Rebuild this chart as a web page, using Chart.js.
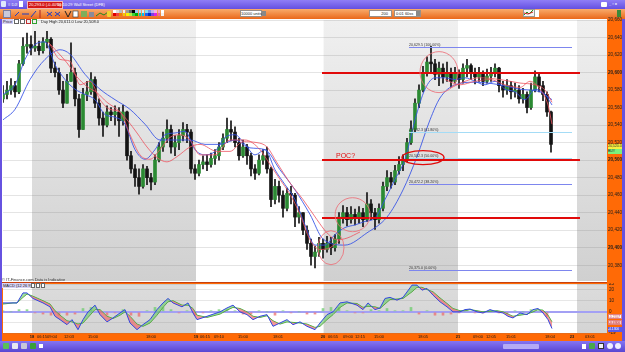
<!DOCTYPE html>
<html>
<head>
<meta charset="utf-8">
<title>Wall Street (DFB)</title>
<script src="https://cdn.jsdelivr.net/npm/chart.js@4.4.1/dist/chart.umd.min.js"></script>
<style>
html, body { margin: 0; padding: 0; }
body { width: 625px; height: 352px; overflow: hidden; position: relative; background: #6652e0; font-family: "Liberation Sans", Arial, sans-serif; }
.abs { position: absolute; }
.tiny { font-size: 4px; line-height: 5px; white-space: nowrap; }
#titlebar { left: 0; top: 0; width: 625px; height: 9px; background: linear-gradient(#8f7ef7, #6450e0); }
#toolbar { left: 0; top: 9px; width: 625px; height: 10px; background: linear-gradient(#f9ac6c, #ea681a); }
#statusbar { left: 0; top: 341px; width: 625px; height: 11px; background: linear-gradient(#8575f3, #5946d2); }
.orange { background: #ff6a06; }
.palette { display: flex; flex-wrap: wrap; width: 51px; gap: 0.4px; }
.palette span { width: 2.8px; height: 2.8px; display: block; }
.inbox { background: #fff; border: 1px solid #9a8f88; box-sizing: border-box; color: #222; }
</style>
</head>
<body>
<div id="titlebar" class="abs">
	<div class="abs" style="left:1px;top:1px;width:5px;height:6px;background:#dfe8fb;border-radius:1px"></div>
	<div class="abs tiny" style="left:8px;top:2px;color:#fff">≡ DJI</div>
	<div class="abs" style="left:19px;top:1px;width:4px;height:6px;background:#fff"></div>
	<div class="abs tiny" style="left:27px;top:1px;height:6px;padding:0 1px;background:#d51616;border:1px solid #f3b8b8;color:#fff;line-height:6px">20,293.0 (-0.40%)</div>
	<div class="abs tiny" style="left:57px;top:2px;color:#fff">16:10:29 Wall Street (DFB)</div>
	<div class="abs" style="left:601px;top:2px;width:6px;height:5px;background:#fff;border-radius:1px"></div>
	<div class="abs tiny" style="left:609px;top:1px;color:#fff;font-weight:bold">_ ▫ x</div>
</div>
<div id="toolbar" class="abs">
	<div class="abs" style="left:3px;top:1px;width:8px;height:8px;background:#c9c9da;border:1px solid #7b7b9c;box-sizing:border-box"></div>
	<svg class="abs" style="left:12px;top:1px" width="100" height="8">
		<g stroke="#1f3fc4" stroke-width="1" fill="none">
			<path d="M3 6 L7 2"/><path d="M10 4 H17"/><path d="M19 7 L24 1"/>
			<path d="M35 6 L40 2 M35 2 L40 6"/><path d="M43 6 L48 2 M43 2 L48 6"/>
		</g>
		<path d="M28 0 V8" stroke="#b02020" stroke-width="1"/>
		<path d="M53 1 L56 7 L59 1" stroke="#222" fill="none"/>
		<rect x="61" y="1" width="5" height="6" fill="#fff" stroke="#333" stroke-width="0.6"/>
		<rect x="69" y="1" width="6" height="6" fill="#7fae5a"/>
		<rect x="77" y="2" width="5" height="5" fill="#8a8a9a"/>
		<path d="M84 6 L88 3 L92 5 L96 2" stroke="#1e8a1e" fill="none"/>
	</svg>
	<div class="abs" style="left:107px;top:2px;width:4px;height:6px;background:#f0d030;border-radius:1px"></div>
	<div class="abs palette" style="left:113px;top:1px">
		<span style="background:#fff"></span><span style="background:#ddd"></span><span style="background:#bbb"></span><span style="background:#eee"></span><span style="background:#999"></span><span style="background:#666"></span><span style="background:#000"></span><span style="background:#9cc8f0"></span><span style="background:#b8d8f8"></span><span style="background:#c8f0f8"></span><span style="background:#80e0f0"></span><span style="background:#7090f0"></span><span style="background:#c0b0f0"></span><span style="background:#f8b0e0"></span><span style="background:#f0a0c8"></span><span style="background:#fff"></span>
		<span style="background:#e00000"></span><span style="background:#f04040"></span><span style="background:#f08000"></span><span style="background:#f0d000"></span><span style="background:#f8f000"></span><span style="background:#b0f040"></span><span style="background:#40d040"></span><span style="background:#00b000"></span><span style="background:#00d0a0"></span><span style="background:#00c0f0"></span><span style="background:#2060f0"></span><span style="background:#0030c0"></span><span style="background:#8040e0"></span><span style="background:#e020e0"></span><span style="background:#f060a0"></span><span style="background:#f0f0f0"></span>
	</div>
	<div class="abs inbox tiny" style="left:240px;top:1px;width:22px;height:7px;text-align:right;padding-right:1px">10000 units</div>
	<div class="abs" style="left:262px;top:2px;width:4px;height:5px;background:#888"></div>
	<div class="abs inbox tiny" style="left:369px;top:1px;width:23px;height:7px;text-align:right;padding-right:3px">200</div>
	<div class="abs inbox tiny" style="left:394px;top:1px;width:27px;height:7px;padding-left:1px">0:01 60ss</div>
	<div class="abs" style="left:416px;top:2px;width:4px;height:5px;background:#888"></div>
	<div class="abs" style="left:523px;top:0px;width:12px;height:8px;background:#f4f4f4;border:1px solid #999;box-sizing:border-box"></div>
	<svg class="abs" style="left:524px;top:1px" width="10" height="6"><path d="M0 5 L3 2 L5 4 L9 0" stroke="#1e9a1e" fill="none"/><path d="M0 3 L4 4 L9 2" stroke="#d02020" fill="none"/></svg>
	<div class="abs" style="left:535px;top:1px;width:4px;height:7px;background:#fff"></div>
	<div class="abs" style="left:617px;top:1px;width:4px;height:7px;background:#3a8a3a"></div>
</div>

<div class="abs" style="left:2px;top:19px;width:605px;height:264px;background:#fff"></div>
<div class="abs orange" style="left:607px;top:19px;width:15px;height:264px"></div>
<div class="abs orange" style="left:2px;top:283px;width:620px;height:58px"></div>

<canvas id="price-chart" class="abs" width="620" height="267" style="left:2px;top:16px"></canvas>
<canvas id="macd-chart" class="abs" width="620" height="58" style="left:2px;top:283px"></canvas>

<div class="abs" style="left:2px;top:282px;width:605px;height:1px;background:#c6400e"></div>

<div class="abs tiny" style="left:2px;top:19px;height:5px;padding:0 1px;background:#d6d2f4;color:#222">Price</div>
<div class="abs" style="left:14px;top:19px;width:5px;height:5px;background:#fff;border:1px solid #666;box-sizing:border-box"></div>
<div class="abs" style="left:20px;top:19px;width:5px;height:5px;background:#fff;border:1px solid #666;box-sizing:border-box"></div>
<div class="abs" style="left:26px;top:19px;width:5px;height:5px;background:#f0f0f0;border:1px solid #c03030;box-sizing:border-box"></div>
<div class="abs" style="left:32px;top:19px;width:5px;height:5px;background:#f0f0f0;border:1px solid #30a030;box-sizing:border-box"></div>
<div class="abs tiny" style="left:41px;top:19px;color:#222">Day High 20,611.0 Low 20,508.0</div>
<div class="abs tiny" style="left:2px;top:277px;color:#333">© IT-Finance.com Data is Indicative</div>

<div class="abs tiny" style="left:608px;top:144px;width:14px;height:5px;background:#f8f040;color:#222;font-size:3.5px">20,520.0</div>
<div class="abs tiny" style="left:608px;top:149px;width:14px;height:5px;background:#7cf07c;color:#222;font-size:3.5px">BUY</div>

<div class="abs tiny" style="left:2px;top:283px;height:5px;padding:0 1px;background:#d6d2f4;color:#222">MACD (12 26 9)</div>
<div class="abs" style="left:31px;top:283px;width:4px;height:5px;background:#fff;border:1px solid #666;box-sizing:border-box"></div>
<div class="abs" style="left:36px;top:283px;width:4px;height:5px;background:#fff;border:1px solid #666;box-sizing:border-box"></div>
<div class="abs" style="left:41px;top:283px;width:4px;height:5px;background:#fff;border:1px solid #666;box-sizing:border-box"></div>

<div class="abs tiny" style="left:608px;top:314px;width:14px;height:5px;background:#fff;border:1px solid #e08080;box-sizing:border-box;color:#d02020;font-size:3.3px;line-height:4px">-0.2557</div>
<div class="abs tiny" style="left:608px;top:320px;width:14px;height:5px;background:#f8c8c8;border:1px solid #e08080;box-sizing:border-box;color:#c02020;font-size:3.3px;line-height:4px">-0.4300</div>
<div class="abs tiny" style="left:608px;top:327px;width:14px;height:5px;background:#5a5ae8;color:#fff;font-size:3.3px;line-height:5px">-4.1300</div>

<div id="statusbar" class="abs">
	<div class="abs" style="left:3px;top:2px;width:6px;height:6px;background:#58c058;border-radius:1px"></div>
	<div class="abs" style="left:12px;top:2px;width:6px;height:6px;background:#e8e8f0;border-radius:1px"></div>
	<div class="abs" style="left:21px;top:2px;width:6px;height:6px;background:#c8c8d8;border-radius:1px"></div>
	<div class="abs" style="left:30px;top:2px;width:6px;height:6px;background:#3aa03a;border-radius:1px"></div>
	<div class="abs" style="left:39px;top:3px;width:4px;height:4px;background:#fff"></div>
	<div class="abs" style="left:503px;top:3px;width:36px;height:5px;background:#b4aaf6;border-radius:1px"></div>
	<div class="abs" style="left:582px;top:3px;width:4px;height:5px;background:#fff"></div>
	<div class="abs" style="left:589px;top:2px;width:6px;height:6px;background:#4aa84a;border-radius:1px"></div>
	<div class="abs" style="left:598px;top:2px;width:6px;height:6px;background:#f0f0f8;border:1px solid #333;box-sizing:border-box"></div>
	<div class="abs" style="left:607px;top:2px;width:6px;height:6px;background:#eef;border-radius:3px"></div>
	<div class="abs" style="left:615px;top:2px;width:6px;height:6px;background:#eef;border-radius:3px"></div>
</div>

<script>
// price bars, one per index step (open = previous close)
const firstOpen = 20570
const barClose = [20575,20580,20585,20578,20610,20630,20632,20628,20630,20625,20635,20638,20605,20600,20580,20565,20590,20600,20570,20535,20575,20578,20592,20565,20548,20540,20555,20552,20555,20545,20555,20505,20490,20480,20470,20490,20480,20475,20500,20515,20525,20535,20515,20520,20528,20535,20532,20490,20485,20495,20498,20495,20502,20505,20515,20525,20535,20532,20520,20505,20515,20505,20490,20485,20500,20505,20490,20455,20470,20460,20445,20462,20460,20435,20440,20420,20405,20390,20395,20405,20398,20405,20400,20410,20435,20440,20432,20438,20435,20440,20432,20450,20440,20432,20445,20470,20480,20475,20488,20495,20500,20520,20535,20565,20580,20600,20612,20610,20598,20605,20595,20600,20590,20598,20592,20605,20608,20600,20595,20598,20590,20596,20600,20605,20585,20580,20585,20578,20580,20570,20575,20560,20580,20595,20585,20575,20555,20518]
const barHigh = [20585,20590,20593,20590,20614,20640,20645,20642,20647,20636,20640,20647,20640,20612,20605,20590,20598,20634,20605,20575,20582,20590,20600,20595,20570,20555,20562,20560,20562,20560,20563,20556,20510,20495,20490,20495,20493,20485,20506,20520,20532,20546,20540,20528,20535,20543,20541,20535,20495,20500,20505,20506,20508,20512,20520,20530,20548,20545,20538,20525,20523,20518,20508,20495,20506,20512,20515,20492,20478,20476,20465,20468,20470,20462,20447,20440,20425,20410,20402,20412,20410,20413,20412,20415,20440,20448,20446,20447,20444,20447,20445,20463,20455,20445,20450,20475,20488,20486,20494,20504,20506,20525,20545,20570,20586,20607,20618,20630,20615,20612,20610,20612,20605,20606,20603,20610,20615,20610,20605,20606,20602,20604,20606,20610,20606,20590,20592,20590,20588,20585,20582,20578,20588,20602,20600,20590,20578,20556]
const barLow = [20566,20570,20575,20572,20576,20608,20622,20620,20624,20620,20622,20628,20600,20595,20575,20560,20565,20590,20562,20526,20535,20568,20575,20560,20540,20527,20538,20545,20540,20527,20540,20500,20485,20470,20461,20468,20472,20466,20472,20498,20510,20520,20508,20505,20512,20522,20520,20485,20478,20482,20490,20488,20492,20495,20500,20512,20520,20522,20515,20500,20503,20495,20482,20478,20483,20495,20485,20447,20450,20452,20435,20442,20450,20424,20428,20415,20398,20380,20377,20390,20388,20395,20392,20396,20405,20428,20425,20428,20426,20428,20424,20430,20432,20421,20428,20442,20465,20468,20472,20484,20488,20498,20518,20532,20560,20578,20596,20600,20592,20585,20588,20590,20583,20588,20582,20588,20595,20592,20587,20590,20585,20588,20590,20595,20578,20572,20575,20570,20572,20565,20565,20554,20558,20578,20578,20568,20550,20509]

// moving averages as [index, price]; null breaks the line
const maRedSlow = [[11.25,20635],[13.5,20624],[16,20611],[18.5,20595],[21,20584],[23.5,20577],[26,20566],[28.5,20558],[31,20546],[33.5,20531],[36,20515],[38.5,20503],[41,20498],[43.5,20504],[46.75,20515],[49.25,20518],[53.5,20510],[56.75,20510],[60,20521],[63.5,20520],[66,20515],[68.5,20497],[71.75,20474],[75,20455],[78.5,20432],[81,20417],[83.5,20409],[86,20411],[89.25,20418],[91,null],[111.75,20582],[115.5,20590],[119.25,20594],[124.25,20592],[129.25,20588],[133,20586],[135.5,20580],[137.25,20566]]
const maRedFast = [[11.75,20632],[14.25,20615],[16.75,20613],[19.25,20586],[21.75,20590],[24.25,20569],[26.75,20558],[29.25,20555],[31.75,20529],[34.25,20506],[36.75,20501],[39.25,20512],[41.75,20526],[44.25,20529],[46.75,20523],[49.25,20506],[53,20506],[56.75,20523],[60.5,20523],[64.25,20512],[66.75,20495],[69.25,20478],[71.75,20461],[74.25,20438],[76.75,20409],[79.25,20398],[81.75,20400],[84.25,20409],[85,null],[110.5,20592],[114.25,20586],[118,20590],[121.75,20592],[125.5,20586],[129.25,20583],[131.75,20590],[134.25,20581],[136.25,20563],[137.25,20541]]
const maBlueFast = [[0,20575],[3,20586],[5.5,20615],[8,20632],[10.5,20635],[13,20609],[15.5,20592],[18,20581],[20.5,20575],[23,20569],[25.5,20552],[28,20549],[30.5,20541],[33,20512],[35.5,20501],[38,20512],[40.5,20529],[43,20531],[45.5,20533],[48,20512],[50.5,20506],[53,20510],[55.5,20526],[58,20529],[60.5,20518],[63,20506],[65.5,20512],[68,20489],[70.5,20472],[73,20455],[75.5,20426],[78,20403],[80.5,20403],[83,20415],[85.5,20423],[88,20426],[90.5,20430],[93,20434],[95.5,20455],[98,20478],[100.5,20501],[103,20546],[105.5,20581],[108,20594],[110.5,20594],[113,20592],[115.5,20594],[118,20590],[120.5,20586],[123,20590],[125.5,20581],[128,20578],[130.5,20569],[133,20581],[135.5,20575],[137.25,20563]]
const maBlueSlow = [[0,20546],[3,20558],[6.75,20592],[10.5,20615],[14.25,20626],[16.75,20621],[20.5,20598],[24.25,20581],[28,20569],[31.75,20558],[35.5,20541],[39.25,20523],[43,20523],[46.75,20523],[50.5,20518],[54.25,20518],[58,20523],[61.75,20514],[65.5,20512],[69.25,20489],[73,20466],[76.75,20438],[80,20410],[85.5,20403],[91,20417],[96,20435],[100,20466],[103.5,20504],[106.75,20546],[109.25,20571],[113,20586],[118,20589],[124.25,20586],[129.25,20581],[134.25,20578],[137.25,20569]]

// horizontal levels, fibonacci retracement and hand-drawn notes
const redLevels = [20600, 20500, 20434]
const redLevelSpan = [79.75, 144.25]
const fibPrices = [20629.5, 20532.3, 20502.3, 20472.2, 20375.0]
const fibLabels = ['20,629.5 (100.00%)', '20,532.3 (61.80%)', '20,502.3 (50.00%)', '20,472.2 (38.20%)', '20,375.0 (0.00%)']
const fibColors = ['#7d86ee', '#a4dcf6', '#a4dcf6', '#7d86ee', '#7d86ee']
const fibSpan = [101.5, 142.25]
const noteCircles = [
	{ x: 109, y: 20600.5, rx: 19, ry: 20.5, color: 'rgba(236,110,120,0.85)', width: 1 },
	{ x: 87.4, y: 20437.7, rx: 17.5, ry: 17, color: 'rgba(236,110,120,0.85)', width: 1 },
	{ x: 82, y: 20400, rx: 13, ry: 17, color: 'rgba(236,110,120,0.85)', width: 1 },
	{ x: 105, y: 20502.9, rx: 21, ry: 7, color: '#e00c0c', width: 1.4 },
]

// sessions (shaded) and time axis
const shadedSessions = [[7.25, 48.25], [80.15, 113.75], [143.5, 151]]
const timeTickPos = [7.25, 9.75, 12.25, 16.5, 22.5, 37, 48.25, 50.5, 54, 60, 68.75, 80, 82.5, 86.25, 89.25, 94, 105, 113.75, 118.75, 122, 127, 136.75, 142.25, 146.75]
const timeTickLabels = ['18', '06:15', '09:04', '12:03', '15:00', '18:00', '19', '06:15', '09:10', '15:00', '18:01', '20', '06:55', '09:00', '12:15', '15:00', '18:05', '21', '09:00', '12:05', '15:01', '18:04', '23', '03:01']

// MACD (12 26 9)
const macdIdx = [0,2.5,3.5,5,6,7.5,10,11.75,13,14.25,16,17.25,18.75,20,21.25,23,24.25,26,27.5,29.25,30.5,31.75,33.5,35,36.75,38.5,40,41.25,42.5,44.75,46.25,47.5,48.5,51,54.25,56,57.5,59.25,61,62.5,64.25,66,67.5,69.25,71,72.5,74.25,76,78,79.25,81,82.5,84.25,86,88.5,90,91.25,93,94.25,95.5,96.75,98.5,100,102.25,103.5,104.75,106,107.5,109.25,111,112.5,114.25,115.5,116.75,118.5,120,121.75,123.5,125,126.25,127.5,129.25,131,132.5,133.75,135,136.25,137.25]
const macdLine = [8,8,8,17,17,12,8,4.5,-4,-7,-11.5,-7,-16,-7,0,6,-2.5,-9,-5.5,-1,2,-10,-16,-11.5,-7,2,8,12,8,4.5,8,-1,-7,-4,0,3.5,6,0,-2.5,-7,-4,-2.5,-13,-10,-7,-11.5,-9,-13,-16,-10,-2.5,0,8,9,6,2,8,2,3.5,12,13,10.5,13,24,24,19.5,21,15,9,4.5,0,0,2,2.5,0,-1,2,0,-1,-4,-5.5,-1,-2.5,2,3,-1,-7,-15]
const signalLine = [7,8,8,13,16,14,10,7,1,-3,-8,-9,-11,-10,-5,2,2,-4,-6,-3,0,-4,-11,-13,-10,-3,4,9,10,6,6,3,-3,-5,-2,1.5,4,3,0,-4,-5,-3.5,-8,-11,-9,-9.5,-10,-11,-14,-13,-7,-2.5,4,8,7.5,4,5,4.5,3,7,11,11.5,12,18,22,22,20,18,12.5,7.5,3,1,1,2,1,0,0.5,1,0,-2,-4,-3,-2,0,2,1.5,-3,-9]
const histogram = [1,0,2,2,-1,-2,-3,-3,-3,-2,3,4,0,-3,-1,2,-3,-4,1,4,4,2,-1,1,-3,-1,1,2,2,1,-2,-2,1,0,-3,1,-1,0,-2,-2,3,4,4,1,-1,-1,2,1,3,1,1,4,-2,1,-3,-3,-2,-1,1,-1,-1,1,-1,-2,1,0,2,1,-4]

Chart.defaults.font.family = '"Liberation Sans", Arial, sans-serif'

const toXY = (pairs) => pairs.map(([x, y]) => ({ x, y }))
const openOf = (i) => (i === 0 ? firstOpen : barClose[i - 1])

const paneBackground = {
	id: 'paneBackground',
	beforeDraw(chart, args, opts) {
		const { ctx, chartArea: a, scales: { x } } = chart
		ctx.save()
		ctx.fillStyle = '#ffffff'
		ctx.fillRect(a.left, a.top, a.width, a.height)
		const g = ctx.createLinearGradient(0, a.top, 0, a.bottom)
		g.addColorStop(0, opts.top)
		g.addColorStop(1, opts.bottom)
		ctx.fillStyle = g
		shadedSessions.forEach(([s, e]) => {
			const x0 = x.getPixelForValue(s)
			const x1 = Math.min(x.getPixelForValue(e), a.right)
			ctx.fillRect(x0, a.top, x1 - x0, a.height)
		})
		ctx.restore()
	},
}

const priceNotes = {
	id: 'priceNotes',
	afterDatasetsDraw(chart) {
		const { ctx, scales: { x, y } } = chart
		ctx.save()
		fibPrices.forEach((p, k) => {
			const py = Math.round(y.getPixelForValue(p)) + 0.5
			ctx.strokeStyle = fibColors[k]
			ctx.lineWidth = 1
			ctx.beginPath()
			ctx.moveTo(x.getPixelForValue(fibSpan[0]), py)
			ctx.lineTo(x.getPixelForValue(fibSpan[1]), py)
			ctx.stroke()
			ctx.fillStyle = '#333'
			ctx.font = '3.6px "Liberation Sans", Arial, sans-serif'
			ctx.textBaseline = 'bottom'
			ctx.fillText(fibLabels[k], x.getPixelForValue(fibSpan[0]), py - 0.5)
		})
		ctx.strokeStyle = '#e10a0a'
		ctx.lineWidth = 2
		redLevels.forEach((p) => {
			const py = Math.round(y.getPixelForValue(p))
			ctx.beginPath()
			ctx.moveTo(x.getPixelForValue(redLevelSpan[0]), py)
			ctx.lineTo(x.getPixelForValue(redLevelSpan[1]), py)
			ctx.stroke()
		})
		noteCircles.forEach((c) => {
			ctx.strokeStyle = c.color
			ctx.lineWidth = c.width
			ctx.beginPath()
			ctx.ellipse(x.getPixelForValue(c.x), y.getPixelForValue(c.y), c.rx, c.ry, 0, 0, Math.PI * 2)
			ctx.stroke()
		})
		ctx.fillStyle = '#e01010'
		ctx.font = '7px "Liberation Sans", Arial, sans-serif'
		ctx.textBaseline = 'alphabetic'
		ctx.fillText('POC?', x.getPixelForValue(83.25), y.getPixelForValue(20503))
		ctx.restore()
	},
}

const maLine = (pairs, color) => ({
	type: 'line',
	data: toXY(pairs),
	borderColor: color,
	borderWidth: 1,
	pointRadius: 0,
	spanGaps: false,
	cubicInterpolationMode: 'monotone',
	order: 1,
})

new Chart(document.getElementById('price-chart'), {
	type: 'line',
	data: {
		datasets: [
			maLine(maRedSlow, 'rgba(238,84,96,0.8)'),
			maLine(maRedFast, 'rgba(238,84,96,0.8)'),
			maLine(maBlueSlow, 'rgba(50,80,230,0.85)'),
			maLine(maBlueFast, 'rgba(50,80,230,0.85)'),
			{
				type: 'bar',
				data: barHigh.map((h, i) => ({ x: i, y: [barLow[i], h] })),
				backgroundColor: '#141414',
				barThickness: 1,
				grouped: false,
				order: 6,
			},
			{
				type: 'bar',
				data: barClose.map((c, i) => ({ x: i, y: [openOf(i), c] })),
				backgroundColor: barClose.map((c, i) => (c >= openOf(i) ? '#2b8a33' : '#141414')),
				barThickness: 3,
				grouped: false,
				order: 5,
			},
		],
	},
	options: {
		responsive: false,
		devicePixelRatio: 1,
		animation: false,
		events: [],
		layout: { padding: { left: 1, top: 4, bottom: 2, right: 0 } },
		plugins: {
			legend: { display: false },
			tooltip: { enabled: false },
			paneBackground: { top: '#f0f0f0', bottom: '#d0d0d0' },
		},
		scales: {
			x: { type: 'linear', min: 0, max: 151, offset: false, display: false },
			y: {
				position: 'right',
				min: 20362,
				max: 20660,
				afterFit: (s) => { s.width = 15; s.paddingTop = 0; s.paddingBottom = 0 },
				border: { display: false },
				grid: { color: 'rgba(120,120,120,0.2)', drawTicks: false },
				ticks: {
					stepSize: 20,
					includeBounds: false,
					padding: 1,
					color: '#1e1e1e',
					font: (c) => ({ size: 4.6, weight: c.tick && c.tick.value % 100 === 0 ? 'bold' : 'normal' }),
					callback: (v) => v.toLocaleString('en-US'),
				},
			},
		},
	},
	plugins: [paneBackground, priceNotes],
})

new Chart(document.getElementById('macd-chart'), {
	type: 'line',
	data: {
		datasets: [
			{
				type: 'bar',
				data: histogram.map((v, k) => ({ x: k * 2, y: v })),
				backgroundColor: histogram.map((v) => (v >= 0 ? 'rgba(110,205,110,0.75)' : 'rgba(236,110,110,0.75)')),
				barThickness: 2,
				grouped: false,
				order: 3,
			},
			{
				data: macdIdx.map((x, k) => ({ x, y: macdLine[k] })),
				borderColor: '#3347e0',
				borderWidth: 1,
				pointRadius: 0,
				fill: { target: 2, above: 'rgba(100,200,100,0.6)', below: 'rgba(238,100,100,0.65)' },
				order: 1,
			},
			{
				data: macdIdx.map((x, k) => ({ x, y: signalLine[k] })),
				borderColor: '#3cb43c',
				borderWidth: 1,
				pointRadius: 0,
				order: 2,
			},
		],
	},
	options: {
		responsive: false,
		devicePixelRatio: 1,
		animation: false,
		events: [],
		layout: { padding: { left: 1, top: 1, bottom: 0, right: 0 } },
		plugins: {
			legend: { display: false },
			tooltip: { enabled: false },
			paneBackground: { top: '#dcdcdc', bottom: '#d4d4d4' },
		},
		scales: {
			x: {
				type: 'linear',
				min: 0,
				max: 151,
				offset: false,
				afterBuildTicks: (s) => { s.ticks = timeTickPos.map((v) => ({ value: v })) },
				afterFit: (s) => { s.height = 8; s.paddingLeft = 0; s.paddingRight = 0 },
				grid: { display: false, drawTicks: false },
				border: { display: false },
				ticks: {
					autoSkip: false,
					maxRotation: 0,
					padding: 1,
					color: '#1a1a1a',
					font: (c) => ({ size: 4, weight: timeTickLabels[c.index] && !timeTickLabels[c.index].includes(':') ? 'bold' : 'normal' }),
					callback: (v, i) => timeTickLabels[i],
				},
			},
			y: {
				position: 'right',
				min: -19,
				max: 25,
				afterFit: (s) => { s.width = 15; s.paddingTop = 0; s.paddingBottom = 0 },
				border: { display: false },
				grid: {
					drawTicks: false,
					color: (c) => (c.tick && c.tick.value === 0 ? '#a3a0f4' : 'rgba(120,120,120,0.18)'),
					lineWidth: (c) => (c.tick && c.tick.value === 0 ? 2 : 1),
				},
				ticks: { stepSize: 10, padding: 2, color: '#1e1e1e', font: { size: 4.6 } },
			},
		},
	},
	plugins: [paneBackground],
})
</script>
</body>
</html>
